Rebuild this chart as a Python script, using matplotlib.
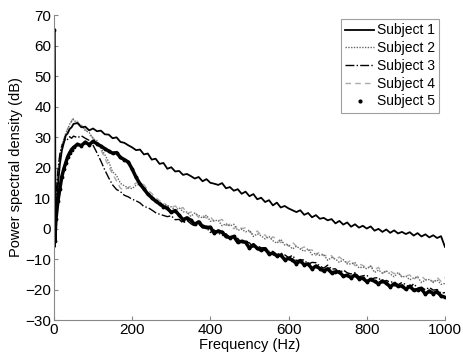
import matplotlib
matplotlib.use("Agg")
import matplotlib.pyplot as plt
from matplotlib.lines import Line2D

plt.rcParams['font.family'] = ['Liberation Sans', 'DejaVu Sans']

freq = [0, 2, 5, 10, 15, 20, 25, 30, 35, 40, 45] + list(range(50, 1001, 10))

subject1 = [64, -6, 4, 14, 21, 25.5, 28, 30.5, 31.2, 32.6, 33.2,
            34.3, 34.6, 33.2, 33.4, 32.2, 32.8, 31.9, 32.1, 30.9, 30.8,
            29.6, 29.9, 28.4, 28.1, 27.3, 26.6, 25.7, 25.9, 24.3, 24.6,
            22.6, 22.9, 21.2, 21.5, 19.6, 20.1, 18.7, 18.9, 17.6, 17.9,
            17.2, 16.4, 16.9, 15.5, 16.2, 15.0, 14.7, 14.3, 14.9, 13.2,
            13.6, 12.4, 12.9, 11.4, 12.1, 10.6, 11.3, 9.6, 10.1, 8.7,
            9.3, 7.6, 8.5, 6.9, 7.4, 6.6, 6.0, 5.4, 6.0, 4.5,
            5.1, 3.7, 4.4, 3.2, 3.5, 2.7, 3.1, 1.7, 2.5, 1.3,
            2.0, 0.6, 1.4, 0.3, 0.9, 0.0, 0.7, -0.7, -0.1, -1.1,
            -0.3, -1.4, -0.6, -1.6, -1.1, -1.8, -1.2, -2.3, -1.5, -2.6,
            -1.9, -2.9, -2.2, -3.1, -2.5, -6.0]

subject2 = [-3, -6, 9, 18, 24, 27.5, 29, 31.3, 32.4, 34.2, 35.1,
            35.8, 34.3, 33.9, 32.1, 31.5, 29.4, 28.8, 26.4, 24.2, 21.9,
            18.6, 17.4, 14.8, 14.0, 13.3, 13.1, 14.2, 14.6, 13.3, 11.4,
            10.8, 9.3, 8.6, 7.9, 7.5,
            7.1, 5.9, 6.8, 5.5, 5.4, 4.0, 5.1, 4.3, 3.4, 4.4,
            2.4, 2.6, 2.7, 0.9, 1.6, 0.8, 1.4, -0.6, -0.2, -1.1,
            -0.5, -2.6, -1.7, -2.4, -3.4, -2.6, -4.0, -4.8, -3.5, -5.4,
            -5.3, -6.7, -5.8, -6.7, -7.5, -6.6, -8.6, -8.0, -8.8, -8.5,
            -10.4, -9.5, -10.0, -11.1, -10.2, -11.6, -11.6, -11.2, -12.9, -12.6,
            -13.2, -12.3, -14.4, -13.6, -14.6, -13.9, -14.9, -15.8, -14.5, -15.9,
            -15.6, -16.8, -16.2, -15.9, -17.7, -16.9, -16.7, -17.7, -16.8, -18.3,
            -18.0]

subject3 = [-5, -6, 10, 19, 24.5, 27, 28.3, 29.5, 29.2, 30.1, 29.6,
            30.3, 29.8, 30.4, 29.6, 28.9, 27.3, 24.8, 22.1, 19.2, 16.6,
            14.3, 12.8, 12.1, 10.9, 10.4, 9.6, 9.1, 8.4, 7.2, 6.9,
            6.1, 5.2, 4.7, 4.3, 3.9,
            4.2, 2.9, 3.0, 1.8, 2.7, 1.6, 0.8, 1.5, 0.2, 0.3,
            -1.3, -0.5, -1.4, -2.3, -1.7, -3.0, -3.4, -3.2, -4.8, -4.4,
            -4.7, -6.2, -5.7, -6.3, -6.3, -7.5, -7.5, -8.6, -8.0, -8.6,
            -9.5, -8.8, -10.5, -10.3, -10.3, -11.7, -11.1, -11.2, -12.3, -13.0,
            -12.0, -13.3, -13.2, -14.6, -13.6, -14.5, -14.9, -14.5, -15.8, -15.5,
            -15.3, -16.7, -16.2, -16.1, -17.7, -17.0, -17.6, -17.4, -18.4, -17.7,
            -18.4, -19.4, -18.1, -19.5, -19.2, -20.1, -19.3, -20.2, -20.0, -21.2,
            -21.0]

subject4 = [-4, -5, 7, 17, 23, 26.5, 29.5, 30.6, 32.9, 33.6, 35.4,
            36.2, 35.1, 33.4, 32.6, 30.9, 29.8, 27.9, 25.8, 23.1, 20.4,
            17.9, 15.6, 13.2, 12.6, 13.5, 14.1, 14.9, 15.2, 14.4, 12.6,
            11.5, 10.2, 9.1, 8.6, 7.4,
            6.8, 7.4, 6.3, 6.9, 4.9, 5.4, 5.2, 3.6, 4.3, 3.4,
            3.9, 2.3, 2.5, 3.0, 1.0, 1.4, -0.1, 0.9, 0.0, 0.2,
            -1.1, -1.9, -0.8, -2.2, -2.1, -3.8, -2.7, -3.5, -4.6, -4.3,
            -5.8, -4.5, -5.8, -6.7, -6.0, -7.2, -7.0, -8.8, -7.5, -8.9,
            -8.8, -8.9, -10.3, -9.3, -10.5, -11.2, -10.3, -12.2, -11.6, -12.1,
            -13.1, -12.3, -13.5, -12.7, -14.7, -13.9, -13.9, -14.8, -14.2, -15.8,
            -15.5, -15.2, -16.7, -15.7, -15.6, -16.8, -16.5, -17.5, -16.0, -17.3,
            -16.1]

subject5 = [65, -4, 3, 9, 13, 17, 19.5, 21.5, 23.5, 24.8, 25.9,
            26.6, 27.6, 27.2, 28.3, 27.5, 28.6, 27.8, 27.0, 26.2, 25.4,
            24.7, 24.9, 23.3, 22.6, 21.8, 19.5, 16.8, 14.6, 13.0, 11.3,
            10.1, 9.0, 8.1, 7.2, 6.6,
            5.3, 5.9, 4.4, 2.9, 3.5, 2.7, 1.4, 2.2, 0.7, 0.4,
            0.4, -1.5, -0.8, -1.2, -2.6, -3.0, -2.6, -4.5, -4.2, -4.5,
            -6.4, -5.3, -6.5, -7.1, -6.6, -8.3, -8.1, -8.9, -8.7, -10.2,
            -9.8, -10.3, -11.5, -10.5, -11.9, -11.6, -13.2, -12.3, -13.1, -13.9,
            -13.2, -14.5, -14.2, -14.2, -15.6, -15.3, -16.1, -15.2, -16.4, -16.3,
            -17.4, -16.7, -17.3, -18.1, -17.2, -17.9, -19.1, -18.1, -18.9, -18.8,
            -19.9, -18.9, -20.2, -20.0, -19.8, -21.5, -20.5, -21.3, -20.7, -22.1,
            -22.5]

labels = ["Subject 1", "Subject 2", "Subject 3", "Subject 4", "Subject 5"]
xticks = [0, 200, 400, 600, 800, 1000]
yticks = [-30, -20, -10, 0, 10, 20, 30, 40, 50, 60, 70]

fig = plt.figure(figsize=(4.63, 3.58), dpi=100)
ax = fig.add_axes([0.1166, 0.106, 0.8444, 0.852])

ax.plot(freq, subject4, color='#aaaaaa', lw=1.0, ls=(0, (4, 3)))
ax.plot(freq, subject2, color='#666666', lw=1.0, ls=(0, (1, 1)))
ax.plot(freq, subject3, color='black', lw=1.0, ls='-.')
ax.plot(freq, subject5, color='black', lw=2.5, ls='-')
ax.plot(freq, subject5, color='black', lw=0, marker='.', ms=3.5)
ax.plot(freq, subject1, color='black', lw=1.3, ls='-')

handles = [
    Line2D([], [], color='black', lw=1.3, ls='-'),
    Line2D([], [], color='#666666', lw=1.0, ls=(0, (1, 1))),
    Line2D([], [], color='black', lw=1.0, ls='-.'),
    Line2D([], [], color='#aaaaaa', lw=1.0, ls=(0, (4, 3))),
    Line2D([], [], color='black', lw=0, marker='.', ms=4),
]
leg = ax.legend(handles, labels, loc='upper right', fontsize=10,
                frameon=True, fancybox=False, handlelength=2.1,
                handletextpad=0.15, borderpad=0.3, labelspacing=0.27,
                borderaxespad=0.3, bbox_to_anchor=(0.995, 1.0))
leg.get_frame().set_edgecolor('#888888')
leg.get_frame().set_linewidth(0.8)

ax.set_xlim(0, 1000)
ax.set_ylim(-30, 70)
ax.set_xticks(xticks)
ax.set_yticks(yticks)
ax.tick_params(direction='in', length=3, color='#888888', labelsize=11, pad=2)
for s in ['top', 'right']:
    ax.spines[s].set_visible(False)
for s in ['left', 'bottom']:
    ax.spines[s].set_color('#888888')
    ax.spines[s].set_linewidth(0.8)

ax.set_xlabel('Frequency (Hz)', fontsize=10.5, labelpad=1)
ax.set_ylabel('Power spectral density (dB)', fontsize=10.5, labelpad=2)

fig.savefig('out.png', dpi=100)
